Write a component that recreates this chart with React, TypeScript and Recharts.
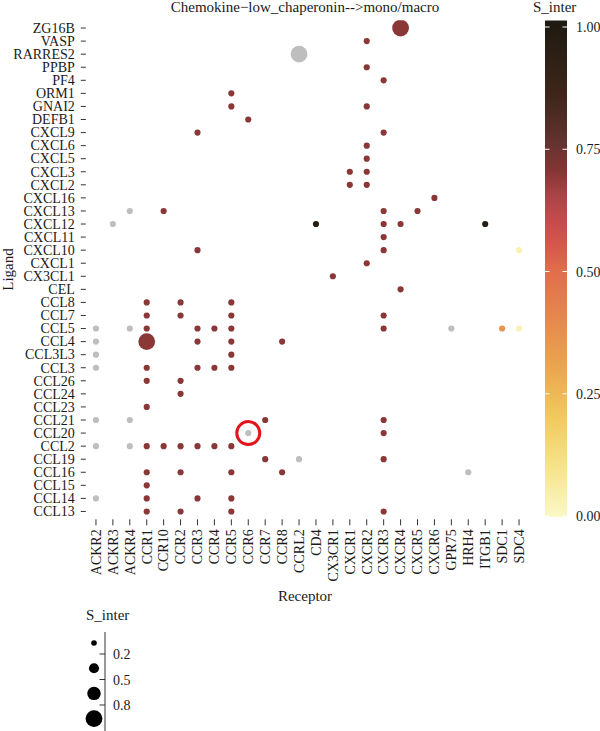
import React from 'react';
import { ScatterChart, Scatter, XAxis, YAxis, ReferenceDot } from 'recharts';

const receptors = ['ACKR2','ACKR3','ACKR4','CCR1','CCR10','CCR2','CCR3','CCR4','CCR5','CCR6','CCR7','CCR8','CCRL2','CD4','CX3CR1','CXCR1','CXCR2','CXCR3','CXCR4','CXCR5','CXCR6','GPR75','HRH4','ITGB1','SDC1','SDC4'];

const ligands = ['ZG16B','VASP','RARRES2','PPBP','PF4','ORM1','GNAI2','DEFB1','CXCL9','CXCL6','CXCL5','CXCL3','CXCL2','CXCL16','CXCL13','CXCL12','CXCL11','CXCL10','CXCL1','CX3CL1','CEL','CCL8','CCL7','CCL5','CCL4','CCL3L3','CCL3','CCL26','CCL24','CCL23','CCL21','CCL20','CCL2','CCL19','CCL16','CCL15','CCL14','CCL13'];

// [ligand, receptor, colour value (null = NA), size value]
const pairs: [string, string, number | null, number][] = [
  ['ZG16B','CXCR4',0.69,1.0],
  ['VASP','CXCR2',0.69,0.05],
  ['RARRES2','CCRL2',null,1.0],
  ['PPBP','CXCR2',0.69,0.05],
  ['PF4','CXCR3',0.69,0.05],
  ['ORM1','CCR5',0.69,0.05],
  ['GNAI2','CCR5',0.69,0.05],
  ['GNAI2','CXCR2',0.69,0.05],
  ['DEFB1','CCR6',0.69,0.05],
  ['CXCL9','CCR3',0.69,0.05],
  ['CXCL9','CXCR3',0.69,0.05],
  ['CXCL6','CXCR2',0.69,0.05],
  ['CXCL5','CXCR2',0.69,0.05],
  ['CXCL3','CXCR1',0.69,0.05],
  ['CXCL3','CXCR2',0.69,0.05],
  ['CXCL2','CXCR1',0.69,0.05],
  ['CXCL2','CXCR2',0.69,0.05],
  ['CXCL16','CXCR6',0.69,0.05],
  ['CXCL13','ACKR4',null,0.05],
  ['CXCL13','CCR10',0.69,0.05],
  ['CXCL13','CXCR3',0.69,0.05],
  ['CXCL13','CXCR5',0.69,0.05],
  ['CXCL12','ACKR3',null,0.05],
  ['CXCL12','CD4',0.96,0.05],
  ['CXCL12','CXCR3',0.69,0.05],
  ['CXCL12','CXCR4',0.69,0.05],
  ['CXCL12','ITGB1',0.96,0.05],
  ['CXCL11','CXCR3',0.69,0.05],
  ['CXCL10','CCR3',0.69,0.05],
  ['CXCL10','CXCR3',0.69,0.05],
  ['CXCL10','SDC4',0.03,0.05],
  ['CXCL1','CXCR2',0.69,0.05],
  ['CX3CL1','CX3CR1',0.69,0.05],
  ['CEL','CXCR4',0.69,0.05],
  ['CCL8','CCR1',0.69,0.05],
  ['CCL8','CCR2',0.69,0.05],
  ['CCL8','CCR5',0.69,0.05],
  ['CCL7','CCR1',0.69,0.05],
  ['CCL7','CCR2',0.69,0.05],
  ['CCL7','CCR5',0.69,0.05],
  ['CCL7','CXCR3',0.69,0.05],
  ['CCL5','ACKR2',null,0.05],
  ['CCL5','ACKR4',null,0.05],
  ['CCL5','CCR1',0.69,0.05],
  ['CCL5','CCR3',0.69,0.05],
  ['CCL5','CCR4',0.69,0.05],
  ['CCL5','CCR5',0.69,0.05],
  ['CCL5','CXCR3',0.69,0.05],
  ['CCL5','GPR75',null,0.05],
  ['CCL5','SDC1',0.36,0.05],
  ['CCL5','SDC4',0.03,0.05],
  ['CCL4','ACKR2',null,0.05],
  ['CCL4','CCR1',0.69,1.0],
  ['CCL4','CCR3',0.69,0.05],
  ['CCL4','CCR5',0.69,0.05],
  ['CCL4','CCR8',0.69,0.05],
  ['CCL3L3','ACKR2',null,0.05],
  ['CCL3L3','CCR5',0.69,0.05],
  ['CCL3','ACKR2',null,0.05],
  ['CCL3','CCR1',0.69,0.05],
  ['CCL3','CCR3',0.69,0.05],
  ['CCL3','CCR4',0.69,0.05],
  ['CCL3','CCR5',0.69,0.05],
  ['CCL26','CCR1',0.69,0.05],
  ['CCL26','CCR2',0.69,0.05],
  ['CCL24','CCR2',0.69,0.05],
  ['CCL23','CCR1',0.69,0.05],
  ['CCL21','ACKR2',null,0.05],
  ['CCL21','ACKR4',null,0.05],
  ['CCL21','CCR7',0.69,0.05],
  ['CCL21','CXCR3',0.69,0.05],
  ['CCL20','CCR6',null,0.05],
  ['CCL20','CXCR3',0.69,0.05],
  ['CCL2','ACKR2',null,0.05],
  ['CCL2','ACKR4',null,0.05],
  ['CCL2','CCR1',0.69,0.05],
  ['CCL2','CCR10',0.69,0.05],
  ['CCL2','CCR2',0.69,0.05],
  ['CCL2','CCR3',0.69,0.05],
  ['CCL2','CCR4',0.69,0.05],
  ['CCL2','CCR5',0.69,0.05],
  ['CCL19','CCR7',0.69,0.05],
  ['CCL19','CCRL2',null,0.05],
  ['CCL19','CXCR3',0.69,0.05],
  ['CCL16','CCR1',0.69,0.05],
  ['CCL16','CCR2',0.69,0.05],
  ['CCL16','CCR5',0.69,0.05],
  ['CCL16','CCR8',0.69,0.05],
  ['CCL16','HRH4',null,0.05],
  ['CCL15','CCR1',0.69,0.05],
  ['CCL14','ACKR2',null,0.05],
  ['CCL14','CCR1',0.69,0.05],
  ['CCL14','CCR3',0.69,0.05],
  ['CCL14','CCR5',0.69,0.05],
  ['CCL13','CCR1',0.69,0.05],
  ['CCL13','CCR2',0.69,0.05],
  ['CCL13','CCR5',0.69,0.05],
  ['CCL13','CXCR3',0.69,0.05],
];

const highlight = { ligand: 'CCL20', receptor: 'CCR6' };

const colourStops: [number, string][] = [
  [0.0, '#fbf8c8'],
  [0.1, '#f6e48a'],
  [0.2, '#f1c95f'],
  [0.3, '#eba64f'],
  [0.4, '#e5884e'],
  [0.5, '#df6c4b'],
  [0.55, '#d5574c'],
  [0.6, '#c44b4c'],
  [0.65, '#a84347'],
  [0.7, '#833533'],
  [0.75, '#653430'],
  [0.85, '#3e2619'],
  [1.0, '#1d1a12'],
];
const colourTicks = [1.0, 0.75, 0.5, 0.25, 0.0];
const sizeLegendValues = [0.0, 0.4, 0.7, 1.0];
const sizeLegendLabels = ['0.2', '0.5', '0.8'];
const NA_COLOUR = '#bebebe';

const FONT = '"Liberation Serif", "Times New Roman", serif';
const TXT = '#1a1a1a';

function hexToRgb(h: string) {
  const n = parseInt(h.slice(1), 16);
  return [(n >> 16) & 255, (n >> 8) & 255, n & 255];
}
function colourFor(v: number | null) {
  if (v === null) return NA_COLOUR;
  for (let i = 0; i < colourStops.length - 1; i++) {
    const [a, ca] = colourStops[i];
    const [b, cb] = colourStops[i + 1];
    if (v >= a && v <= b) {
      const t = (v - a) / (b - a);
      const A = hexToRgb(ca), B = hexToRgb(cb);
      const c = A.map((x, k) => Math.round(x + (B[k] - x) * t));
      return `rgb(${c[0]},${c[1]},${c[2]})`;
    }
  }
  return colourStops[colourStops.length - 1][1];
}
const rScale = (s: number) => 2.8 + 5.6 * s;

const data = pairs.map(([l, r, c, s]) => ({
  x: receptors.indexOf(r),
  y: ligands.indexOf(l),
  c,
  s,
}));

const XTick = (props: any) => {
  const { x, y, payload } = props;
  const bx = x + 4.8;
  return (
    <text
      x={bx}
      y={y}
      transform={`rotate(-90 ${bx} ${y})`}
      textAnchor="end"
      fontFamily={FONT}
      fontSize={14}
      fill={TXT}
    >
      {receptors[payload.value]}
    </text>
  );
};

const YTick = (props: any) => {
  const { x, y, payload } = props;
  return (
    <text
      x={x}
      y={y + 4.8}
      textAnchor="end"
      fontFamily={FONT}
      fontSize={14}
      fill={TXT}
    >
      {ligands[payload.value]}
    </text>
  );
};

const DotShape = (props: any) => {
  const { cx, cy, payload } = props;
  return <circle cx={cx} cy={cy} r={rScale(payload.s)} fill={colourFor(payload.c)} />;
};

const CB_TOP = 20.5;
const CB_BOTTOM = 517;
const cbY = (v: number) => 516 - v * 489;

export default function App() {
  return (
    <div style={{ position: 'absolute', left: 0, top: 0, width: 600, height: 731, background: '#fff' }}>
      <ScatterChart
        width={600}
        height={731}
        margin={{ top: 20.2, right: 70.8, bottom: 131.7, left: 0 }}
      >
        <XAxis
          type="number"
          dataKey="x"
          domain={[-0.6, 25.6]}
          allowDataOverflow
          ticks={receptors.map((_, i) => i)}
          interval={0}
          axisLine={false}
          tickLine={{ stroke: '#333' }}
          tickSize={6}
          tickMargin={4}
          height={80}
          tick={<XTick />}
        />
        <YAxis
          type="number"
          dataKey="y"
          domain={[-0.6, 37.6]}
          allowDataOverflow
          reversed
          ticks={ligands.map((_, i) => i)}
          interval={0}
          width={85.8}
          axisLine={false}
          tickLine={{ stroke: '#333' }}
          tickSize={5}
          tickMargin={6}
          tick={<YTick />}
        />
        <Scatter data={data} isAnimationActive={false} shape={<DotShape />} />
        <ReferenceDot
          x={receptors.indexOf(highlight.receptor)}
          y={ligands.indexOf(highlight.ligand)}
          r={11.5}
          fill="none"
          stroke="#e3141b"
          strokeWidth={3}
        />
      </ScatterChart>
      <svg
        width={600}
        height={731}
        style={{ position: 'absolute', left: 0, top: 0, pointerEvents: 'none' }}
      >
        <defs>
          <linearGradient id="cbar" x1="0" y1="1" x2="0" y2="0">
            {colourStops.map(([v, c]) => (
              <stop key={v} offset={`${v * 100}%`} stopColor={c} />
            ))}
          </linearGradient>
        </defs>
        <text x={305} y={12} textAnchor="middle" fontFamily={FONT} fontSize={15} fill={TXT}>
          Chemokine−low_chaperonin--&gt;mono/macro
        </text>
        <text x={305} y={601} textAnchor="middle" fontFamily={FONT} fontSize={15} fill={TXT}>
          Receptor
        </text>
        <text
          x={13}
          y={269.5}
          transform="rotate(-90 13 269.5)"
          textAnchor="middle"
          fontFamily={FONT}
          fontSize={15}
          fill={TXT}
        >
          Ligand
        </text>
        {/* colour bar */}
        <text x={533} y={12} fontFamily={FONT} fontSize={15} fill={TXT}>S_inter</text>
        <rect x={545} y={CB_TOP} width={22} height={CB_BOTTOM - CB_TOP} fill="url(#cbar)" />
        {colourTicks.map((v) => (
          <g key={v}>
            <line x1={545} x2={549.5} y1={cbY(v)} y2={cbY(v)} stroke="#fff" strokeWidth={1} />
            <line x1={562.5} x2={567} y1={cbY(v)} y2={cbY(v)} stroke="#fff" strokeWidth={1} />
            <text x={576} y={cbY(v) + 5} fontFamily={FONT} fontSize={14} fill={TXT}>
              {v.toFixed(2)}
            </text>
          </g>
        ))}
        {/* size legend */}
        <text x={86} y={620} fontFamily={FONT} fontSize={15} fill={TXT}>S_inter</text>
        {sizeLegendValues.map((s, i) => (
          <circle key={i} cx={94} cy={643 + i * 25.2} r={rScale(s)} fill="#000" />
        ))}
        <line x1={105} x2={105} y1={632} y2={731} stroke="#333" strokeWidth={1} />
        {sizeLegendLabels.map((lab, i) => (
          <g key={lab}>
            <line x1={99.5} x2={105} y1={654 + i * 25.5} y2={654 + i * 25.5} stroke="#333" strokeWidth={1} />
            <text x={113} y={659 + i * 25.5} fontFamily={FONT} fontSize={14} fill={TXT}>{lab}</text>
          </g>
        ))}
      </svg>
    </div>
  );
}
